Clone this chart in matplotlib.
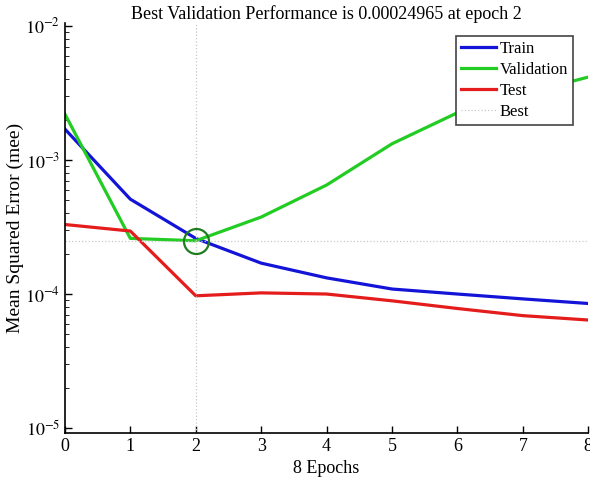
import numpy as np
import matplotlib
matplotlib.use("Agg")
import matplotlib.pyplot as plt

plt.rcParams["font.family"] = "Liberation Serif"
plt.rcParams["mathtext.fontset"] = "stix"

epochs = [0, 1, 2, 3, 4, 5, 6, 7, 8]
train = [1.7e-3, 5.1e-4, 2.6e-4, 1.7e-4, 1.32e-4, 1.09e-4, 1.0e-4, 9.2e-5, 8.5e-5]
validation = [2.2e-3, 2.6e-4, 2.4965e-4, 3.75e-4, 6.5e-4, 1.32e-3, 2.25e-3, 3.1e-3, 4.15e-3]
test = [3.3e-4, 2.95e-4, 9.7e-5, 1.02e-4, 1.0e-4, 8.9e-5, 7.8e-5, 6.9e-5, 6.4e-5]
best_epoch = 2
best_perf = 0.00024965

fig = plt.figure(figsize=(5.9, 4.8), dpi=100)
ax = fig.add_axes([0.110, 0.098, 0.887, 0.854])

ax.plot(epochs, train, color='#1414d8', lw=2.3, label='Train')
ax.plot(epochs, validation, color='#22cc22', lw=2.3, label='Validation')
ax.plot(epochs, test, color='#e41c1c', lw=2.3, label='Test')
ax.axhline(best_perf, color='#c8c8c8', lw=0.9, ls=':', label='Best')
ax.axvline(best_epoch, color='#c8c8c8', lw=0.9, ls=':')
ax.plot(best_epoch, best_perf, 'o', mfc='none', mec='#1e7d1e', ms=18, mew=1.6)

ax.set_yscale('log')
ax.set_xlim(0, 8)
ax.set_ylim(9.2e-6, 1.05e-2)
ax.set_yticks([1e-5, 1e-4, 1e-3, 1e-2])
ax.set_yticklabels([r'$10^{-5}$', r'$10^{-4}$', r'$10^{-3}$', r'$10^{-2}$'])
ax.set_xticks(epochs)
ax.tick_params(direction='in', labelsize=13, length=5, width=1)
ax.tick_params(which='minor', direction='in', length=3)
for s in ['top', 'right']:
    ax.spines[s].set_visible(False)
ax.spines['left'].set_linewidth(1.2)
ax.spines['bottom'].set_linewidth(1.2)

ax.set_title('Best Validation Performance is 0.00024965 at epoch 2', fontsize=13, pad=3)
ax.set_xlabel('8 Epochs', fontsize=13)
ax.set_ylabel('Mean Squared Error (mee)', fontsize=14, labelpad=1)

leg = ax.legend(loc='upper right', bbox_to_anchor=(0.971, 0.968), fontsize=12,
                fancybox=False, framealpha=1, edgecolor='#444444',
                handlelength=2.1, handletextpad=0.2, labelspacing=0.3,
                borderpad=0.3, borderaxespad=0)
leg.get_frame().set_linewidth(1.2)

plt.savefig("out.png", dpi=100)
